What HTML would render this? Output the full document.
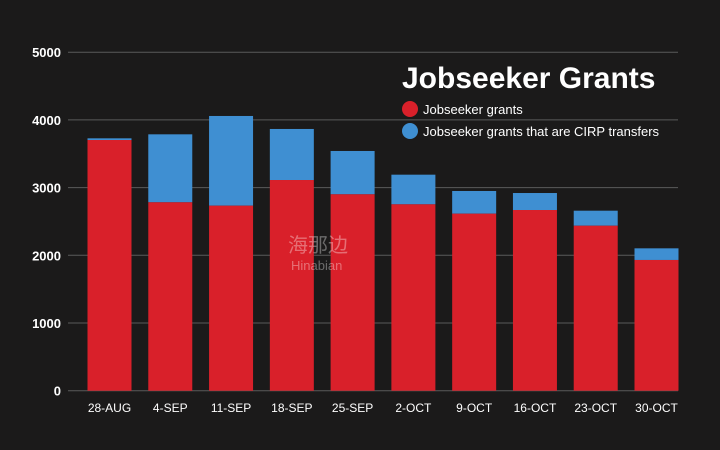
<!DOCTYPE html>
<html><head><meta charset="utf-8"><style>
html,body{margin:0;padding:0;background:#1b1a1a;}
svg{display:block;font-family:"Liberation Sans",sans-serif;}
</style></head><body>
<svg id="chart" width="720" height="450">
<rect width="720" height="450" fill="#1b1a1a"/>
<g id="grid"></g>
<g id="bars"></g>
<g id="xlabels"></g>
<text x="402" y="88" fill="#fff" font-size="30" font-weight="bold">Jobseeker Grants</text>
<g>
<g>
<circle cx="410" cy="109" r="8" fill="#d9202a"/>
<text x="423" y="114" fill="#fff" font-size="13">Jobseeker grants</text></g>
<g>
<circle cx="410" cy="131" r="8" fill="#3f8fd2"/>
<text x="423" y="136" fill="#fff" font-size="13">Jobseeker grants that are CIRP transfers</text></g>
</g>
<g opacity="0.35">
<text x="288" y="252" fill="#fff" font-size="20" font-family="'Noto Sans CJK SC',sans-serif">海那边</text>
<text x="291" y="270" fill="#fff" font-size="13">Hinabian</text>
</g>
</svg>
<script>
const categories=["28-AUG","4-SEP","11-SEP","18-SEP","25-SEP","2-OCT","9-OCT","16-OCT","23-OCT","30-OCT"];
const grants=[3703,2783,2733,3112,2901,2753,2615,2669,2437,1931];
const totals=[3728,3787,4058,3866,3541,3191,2950,2920,2659,2103];
const yTicks=[0,1000,2000,3000,4000,5000];
const NS="http://www.w3.org/2000/svg";
const x0=68,x1=678,yBase=390.7,pxPer=67.7/1000;
function y(v){return yBase-v*pxPer;}
const firstC=109.5,lastC=656.5,bw=44;
function xc(i){return firstC+(lastC-firstC)*i/(categories.length-1);}
function mk(tag,attrs,parent){const e=document.createElementNS(NS,tag);for(const k in attrs)e.setAttribute(k,attrs[k]);parent.appendChild(e);return e;}
const grid=document.getElementById('grid'),bars=document.getElementById('bars'),xl=document.getElementById('xlabels');
yTicks.forEach(t=>{
 const l=mk('line',{x1:x0,x2:x1,y1:y(t),y2:y(t),stroke:'#5a5a5a','stroke-width':1},grid);
 
 
 const tx=mk('text',{x:61,y:y(t)+5,fill:'#fff','font-size':13,'font-weight':'bold','text-anchor':'end'},grid);
 tx.textContent=t;
 
 
});
categories.forEach((c,i)=>{
 const b=mk('rect',{x:xc(i)-bw/2,width:bw,y:y(totals[i]),height:y(grants[i])-y(totals[i]),fill:'#3f8fd2'},bars);
 
 
 const r=mk('rect',{x:xc(i)-bw/2,width:bw,y:y(grants[i]),height:yBase-y(grants[i]),fill:'#d9202a'},bars);
 
 
 const t=mk('text',{x:xc(i),y:412,fill:'#fff','font-size':12,'text-anchor':'middle'},xl);
 t.textContent=c;
 
 
});
</script>
</body></html>
